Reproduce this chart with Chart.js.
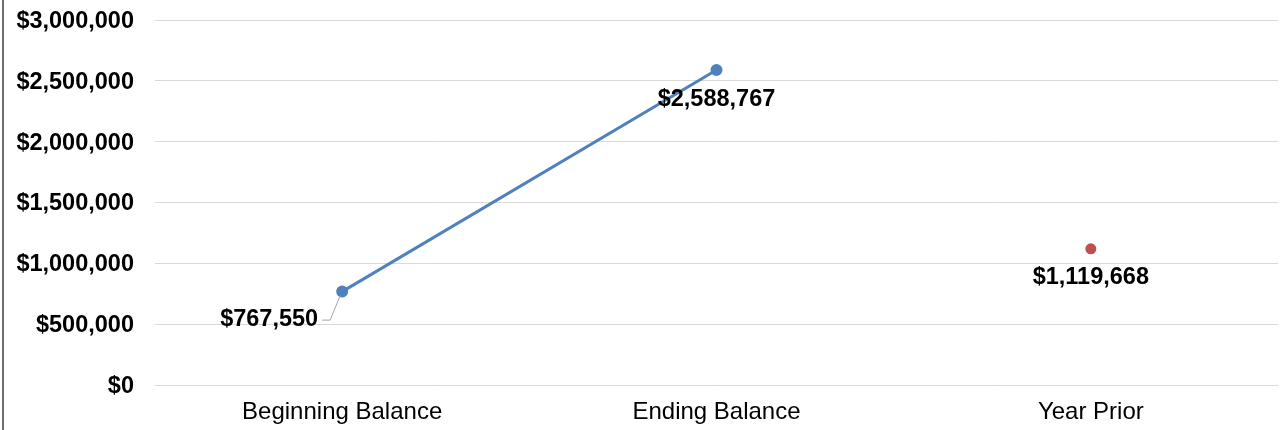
<!DOCTYPE html>
<html>
<head>
<meta charset="utf-8">
<script src="https://cdn.jsdelivr.net/npm/chart.js@4"></script>
<style>
  html, body { margin: 0; padding: 0; background: #fff; }
  #wrap { width: 1280px; height: 430px; position: relative; }
</style>
</head>
<body>
<div id="wrap"><canvas id="chart"></canvas></div>
<script>
// Balance chart data
const categories = ['Beginning Balance', 'Ending Balance', 'Year Prior'];
const balanceValues = [767550, 2588767, null];
const yearPriorValues = [null, null, 1119668];
const yTicks = [0, 500000, 1000000, 1500000, 2000000, 2500000, 3000000];

const money = v => '$' + Math.round(v).toLocaleString('en-US');
const FONT = "'Liberation Sans', Arial, sans-serif";

// left frame line
const framePlugin = {
    id: 'frame',
    beforeDraw(chart) {
        const ctx = chart.ctx;
        ctx.save();
        ctx.fillStyle = '#6e6e6e';
        ctx.fillRect(2, 0, 2, chart.height);
        ctx.restore();
    }
};

// value labels under the points
const labelPlugin = {
    id: 'valueLabels',
    afterDatasetsDraw(chart) {
        const ctx = chart.ctx;
        ctx.save();
        ctx.font = 'bold 23.5px ' + FONT;
        ctx.fillStyle = '#000';
        ctx.textBaseline = 'middle';
        chart.data.datasets.forEach((ds, di) => {
            const meta = chart.getDatasetMeta(di);
            meta.data.forEach((pt, i) => {
                const v = ds.data[i];
                if (v == null) return;
                const text = money(v);
                if (ds.labelPos && ds.labelPos[i] === 'leftBelow') {
                    const tx = pt.x - 24, ty = pt.y + 28;
                    ctx.textAlign = 'right';
                    ctx.fillText(text, tx, ty);
                    ctx.strokeStyle = '#a6a6a6';
                    ctx.lineWidth = 1;
                    ctx.beginPath();
                    ctx.moveTo(tx + 4, ty + 0.5);
                    ctx.lineTo(tx + 12, ty + 0.5);
                    ctx.lineTo(pt.x - 2, pt.y + 4);
                    ctx.stroke();
                } else {
                    ctx.textAlign = 'center';
                    ctx.fillText(text, pt.x, pt.y + 29);
                }
            });
        });
        ctx.restore();
    }
};

new Chart(document.getElementById('chart'), {
    type: 'line',
    data: {
        labels: categories,
        datasets: [
            {
                label: 'Balance',
                data: balanceValues,
                borderColor: '#4f81bd',
                backgroundColor: '#4f81bd',
                borderWidth: 3,
                pointRadius: 4.5,
                pointHoverRadius: 4.5,
                spanGaps: false,
                labelPos: ['leftBelow', 'below', null]
            },
            {
                label: 'Year Prior',
                data: yearPriorValues,
                borderColor: '#c0504d',
                backgroundColor: '#c0504d',
                borderWidth: 3,
                pointRadius: 4,
                pointHoverRadius: 4,
                showLine: false
            }
        ]
    },
    options: {
        responsive: true,
        maintainAspectRatio: false,
        animation: false,
        layout: { autoPadding: false, padding: { top: 20, right: 2, left: 0, bottom: 0 } },
        plugins: {
            legend: { display: false },
            tooltip: { enabled: false }
        },
        scales: {
            x: {
                offset: true,
                grid: { display: false, drawTicks: false },
                border: { display: false },
                ticks: {
                    color: '#000',
                    font: { family: FONT, size: 24 },
                    padding: 13
                },
                afterFit(scale) {
                    scale.height = 45;
                    scale.paddingLeft = 0;
                    scale.paddingRight = 0;
                }
            },
            y: {
                min: 0,
                max: 3000000,
                afterBuildTicks(scale) { scale.ticks = yTicks.map(v => ({ value: v })); },
                grid: { color: '#d9d9d9', lineWidth: 1, drawTicks: false },
                border: { display: false },
                ticks: {
                    color: '#000',
                    font: { family: FONT, size: 23.5, weight: 'bold' },
                    padding: 21,
                    labelOffset: 1.5,
                    callback: v => money(v)
                },
                afterFit(scale) {
                    scale.width = 155;
                    scale.paddingTop = 0;
                    scale.paddingBottom = 0;
                }
            }
        }
    },
    plugins: [framePlugin, labelPlugin]
});
</script>
</body>
</html>
